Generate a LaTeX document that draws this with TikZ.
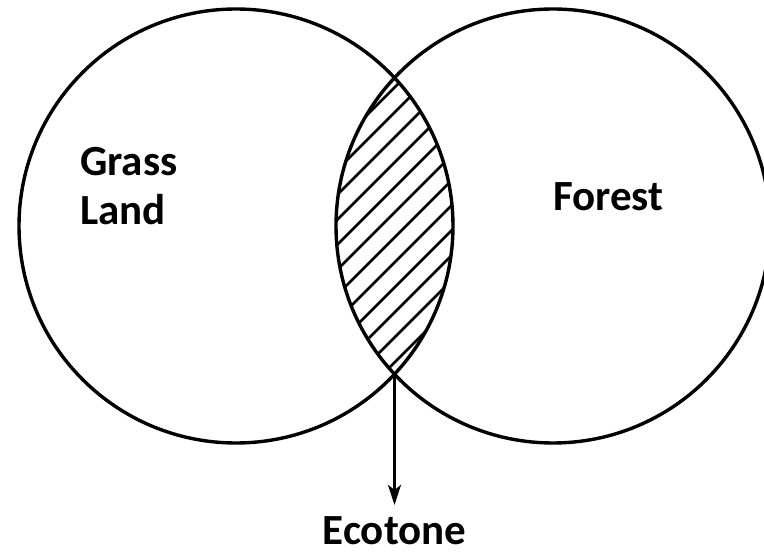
\documentclass[tikz,border=0pt]{standalone}
\usepackage{fontspec}
\setmainfont{Carlito}
\usetikzlibrary{arrows.meta}
\begin{document}
\begin{tikzpicture}[x=1pt,y=1pt,
  ring/.style={circle,draw,line width=3.4pt,minimum size=434pt,inner sep=0pt},
  lbl/.style={font=\fontsize{43}{49}\selectfont\bfseries,inner sep=0pt},
  hatch/.style={line width=2.8pt},
  pointer/.style={line width=2.4pt,-{Stealth[length=20pt,width=13pt,inset=5pt]}}]
\fill[white] (0,0) rectangle (764,552);
\useasboundingbox (0,0) rectangle (764,552);
\begin{scope}
  \clip (236,326) circle (217);
  \clip (553,326) circle (217);
  \foreach \b in {-205,-180,...,70} {
    \draw[hatch] (300,300+\b) -- (500,500+\b);
  }
\end{scope}
\node[ring] (L) at (236,326) {};
\node[ring] (R) at (553,326) {};
\coordinate (E) at (394.5,176);
\node[lbl,anchor=base west,align=left] (grass) at (80,327) {Grass\\Land};
\node[lbl,anchor=base west] (forest) at (553,341) {Forest};
\node[lbl,anchor=base] (eco) at (394.5,7) {Ecotone};
\draw[pointer,shorten >=12pt] (E) -- (eco.north);
\end{tikzpicture}
\end{document}
